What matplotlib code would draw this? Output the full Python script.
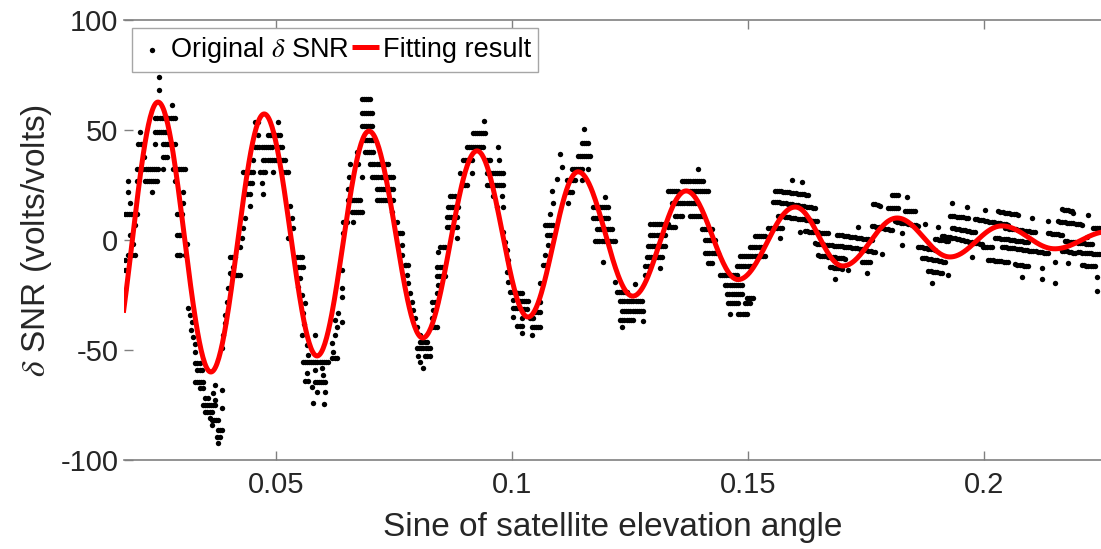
import numpy as np
import matplotlib
matplotlib.use("Agg")
import matplotlib.pyplot as plt

plt.rcParams['font.family'] = ['Liberation Sans', 'DejaVu Sans']
plt.rcParams['mathtext.fontset'] = 'stix'
plt.rcParams['axes.unicode_minus'] = False

# ---------------------------------------------------------------
# Fitted curve: successive extrema (sine of elevation, delta SNR)
# ---------------------------------------------------------------
fit_ext_x = [0.0140, 0.0250, 0.0362, 0.0475, 0.0587, 0.0697, 0.0811, 0.0926,
             0.1034, 0.1140, 0.1256, 0.1369, 0.1479, 0.1600, 0.1701, 0.1816,
             0.1928, 0.2038, 0.2150, 0.2262]
fit_ext_y = [-65.0, 62.7, -60.0, 57.3, -52.7, 49.5, -44.5, 40.5, -35.0, 31.0,
             -25.5, 22.3, -18.0, 15.0, -11.8, 10.0, -7.7, 6.4, -4.0, 3.8]

# ---------------------------------------------------------------
# Observed delta SNR, stored as runs of consecutive samples that sit
# on the same quantised level: (x_start, x_end, y_start[, y_end])
# ---------------------------------------------------------------
runs_peak1 = [
    (0.0186, 0.0186, 26.8), (0.0186, 0.0186, 21.8), (0.0191, 0.0191, 16.8),
    (0.0180, 0.0206, 11.8), (0.0201, 0.0201, 6.8), (0.0191, 0.0191, 2.3),
    (0.0197, 0.0197, -1.8), (0.0186, 0.0201, -6.8), (0.0180, 0.0180, -9.1),
    (0.0180, 0.0180, -13.6), (0.0180, 0.0180, -22.7), (0.0206, 0.0206, 26.8),
    (0.0206, 0.0250, 32.3), (0.0208, 0.0218, 43.6), (0.0212, 0.0212, 49.1),
    (0.0220, 0.0220, 37.7), (0.0222, 0.0248, 26.8), (0.0237, 0.0237, 21.8),
    (0.0244, 0.0244, 43.6), (0.0244, 0.0269, 49.1), (0.0244, 0.0286, 55.5),
    (0.0252, 0.0252, 68.2), (0.0252, 0.0252, 74.1), (0.0280, 0.0280, 61.4),
    (0.0261, 0.0286, 43.6), (0.0261, 0.0269, 37.7), (0.0261, 0.0261, 32.3),
    (0.0282, 0.0307, 32.3), (0.0286, 0.0286, 26.8), (0.0303, 0.0303, 21.8),
    (0.0303, 0.0303, 16.8), (0.0290, 0.0301, 11.8), (0.0290, 0.0297, 2.3),
    (0.0311, 0.0311, -1.8), (0.0290, 0.0297, -6.8), (0.0307, 0.0307, -6.8),
]
runs_trough1 = [
    (0.0314, 0.0314, -30.9), (0.0318, 0.0318, -34.1), (0.0322, 0.0322, -37.3),
    (0.0320, 0.0320, -40.9), (0.0324, 0.0324, -44.1), (0.0328, 0.0328, -47.3),
    (0.0328, 0.0328, -50.9), (0.0328, 0.0339, -55.9), (0.0333, 0.0343, -59.1),
    (0.0328, 0.0345, -64.5), (0.0339, 0.0345, -67.3), (0.0350, 0.0356, -71.8),
    (0.0345, 0.0371, -75.0), (0.0350, 0.0364, -78.2), (0.0360, 0.0360, -80.9),
    (0.0364, 0.0377, -81.8), (0.0364, 0.0364, -84.1), (0.0377, 0.0386, -86.4),
    (0.0375, 0.0381, -89.5), (0.0377, 0.0377, -92.3), (0.0371, 0.0371, -65.9),
    (0.0386, 0.0386, -68.2), (0.0367, 0.0367, -69.5), (0.0371, 0.0371, -72.7),
    (0.0386, 0.0386, -76.4), (0.0386, 0.0386, -49.1), (0.0388, 0.0388, -43.2),
    (0.0392, 0.0392, -37.7), (0.0392, 0.0392, -34.1), (0.0396, 0.0396, -28.2),
    (0.0398, 0.0398, -21.8), (0.0403, 0.0403, -15.0), (0.0407, 0.0424, -15.9),
    (0.0409, 0.0409, -12.3), (0.0403, 0.0403, -7.7),
]
runs_peak2 = [
    (0.0407, 0.0413, -7.7), (0.0424, 0.0424, -3.2), (0.0428, 0.0428, 0.9),
    (0.0430, 0.0430, 5.5), (0.0434, 0.0434, 10.0), (0.0445, 0.0445, 15.5),
    (0.0439, 0.0445, 20.9), (0.0439, 0.0449, 25.9), (0.0470, 0.0470, 25.9),
    (0.0430, 0.0451, 30.9), (0.0466, 0.0477, 30.9), (0.0494, 0.0494, 30.9),
    (0.0515, 0.0526, 30.9), (0.0451, 0.0451, 36.4), (0.0473, 0.0519, 36.4),
    (0.0456, 0.0492, 42.3), (0.0504, 0.0513, 42.3), (0.0462, 0.0462, 47.7),
    (0.0483, 0.0509, 47.7), (0.0456, 0.0462, 53.6), (0.0504, 0.0504, 53.6),
    (0.0473, 0.0473, 20.9), (0.0530, 0.0530, 15.5), (0.0534, 0.0534, 10.0),
    (0.0536, 0.0536, 5.5), (0.0526, 0.0526, 0.9), (0.0545, 0.0555, -7.7),
]
runs_trough2 = [
    (0.0547, 0.0557, -12.3), (0.0551, 0.0551, -17.3), (0.0547, 0.0547, -21.4),
    (0.0555, 0.0555, -25.0), (0.0562, 0.0562, -28.6), (0.0557, 0.0557, -33.0),
    (0.0560, 0.0560, -38.0), (0.0555, 0.0555, -43.2), (0.0566, 0.0566, -47.7),
    (0.0568, 0.0568, -52.3), (0.0557, 0.0610, -55.5), (0.0566, 0.0566, -60.5),
    (0.0583, 0.0583, -59.1), (0.0562, 0.0568, -64.1), (0.0583, 0.0604, -64.5),
    (0.0576, 0.0576, -66.8), (0.0587, 0.0587, -69.1), (0.0604, 0.0604, -69.1),
    (0.0578, 0.0578, -74.1), (0.0602, 0.0602, -74.5), (0.0598, 0.0598, -58.2),
    (0.0600, 0.0600, -61.4), (0.0583, 0.0583, -43.2), (0.0619, 0.0629, -53.6),
    (0.0621, 0.0621, -50.9), (0.0619, 0.0619, -46.8), (0.0625, 0.0625, -43.2),
    (0.0629, 0.0629, -39.5), (0.0625, 0.0625, -36.4), (0.0631, 0.0631, -33.2),
    (0.0640, 0.0640, -37.3), (0.0640, 0.0640, -25.9), (0.0640, 0.0640, -21.8),
    (0.0640, 0.0640, -13.6),
]
runs_peak3 = [
    (0.0642, 0.0651, 8.2), (0.0663, 0.0663, 8.2), (0.0642, 0.0642, 3.2),
    (0.0661, 0.0682, 12.7), (0.0653, 0.0678, 18.2), (0.0653, 0.0653, 23.2),
    (0.0655, 0.0655, 28.6), (0.0682, 0.0682, 28.6), (0.0657, 0.0657, 34.5),
    (0.0674, 0.0674, 34.5), (0.0672, 0.0672, 40.0), (0.0689, 0.0706, 40.0),
    (0.0689, 0.0706, 45.5), (0.0682, 0.0704, 51.8), (0.0682, 0.0704, 57.7),
    (0.0682, 0.0699, 64.1), (0.0699, 0.0737, 34.5), (0.0704, 0.0748, 28.6),
    (0.0714, 0.0748, 23.2), (0.0714, 0.0748, 18.2), (0.0746, 0.0746, 12.7),
    (0.0756, 0.0756, 8.2), (0.0759, 0.0767, 3.2), (0.0767, 0.0767, -2.3),
]
runs_trough3 = [
    (0.0767, 0.0767, -6.8), (0.0773, 0.0780, -11.4), (0.0778, 0.0778, -15.9),
    (0.0780, 0.0780, -19.5), (0.0784, 0.0784, -24.1), (0.0788, 0.0788, -28.2),
    (0.0790, 0.0790, -31.8), (0.0795, 0.0795, -35.5), (0.0799, 0.0799, -39.5),
    (0.0805, 0.0805, -43.2), (0.0805, 0.0820, -46.4), (0.0799, 0.0826, -49.1),
    (0.0801, 0.0801, -52.7), (0.0816, 0.0826, -52.7), (0.0805, 0.0805, -55.5),
    (0.0812, 0.0812, -58.2), (0.0831, 0.0841, -39.5), (0.0831, 0.0831, -35.5),
    (0.0833, 0.0833, -31.8), (0.0831, 0.0841, -28.2), (0.0841, 0.0841, -24.1),
    (0.0843, 0.0843, -20.5), (0.0841, 0.0858, -16.4), (0.0841, 0.0852, -12.3),
    (0.0843, 0.0843, -5.5), (0.0848, 0.0858, -3.2),
]
runs_peak4 = [
    (0.0862, 0.0884, 5.9), (0.0862, 0.0884, 10.5), (0.0865, 0.0886, 15.0),
    (0.0869, 0.0879, 20.0), (0.0884, 0.0884, 0.9), (0.0896, 0.0905, 25.0),
    (0.0890, 0.0890, 30.5), (0.0915, 0.0915, 30.5), (0.0896, 0.0915, 36.4),
    (0.0905, 0.0939, 42.3), (0.0918, 0.0943, 48.6), (0.0941, 0.0941, 54.1),
    (0.0947, 0.0954, 36.4), (0.0970, 0.0970, 42.3), (0.0973, 0.0973, 36.4),
    (0.0947, 0.0981, 30.5), (0.0947, 0.0981, 25.0), (0.0960, 0.0960, 20.0),
    (0.0979, 0.0979, 20.0), (0.0968, 0.0968, 15.0), (0.0981, 0.0981, 15.0),
    (0.0981, 0.0981, 3.6), (0.0985, 0.0985, -0.9),
]
runs_trough4 = [
    (0.0990, 0.0990, -4.5), (0.0992, 0.0992, -9.1), (0.0990, 0.0990, -14.5),
    (0.0992, 0.0992, -19.1), (0.0996, 0.1007, -23.6), (0.1013, 0.1021, -24.1),
    (0.1002, 0.1002, -27.3), (0.1017, 0.1034, -27.7), (0.1002, 0.1011, -30.9),
    (0.1021, 0.1032, -31.4), (0.1002, 0.1002, -35.0), (0.1021, 0.1021, -35.5),
    (0.1011, 0.1021, -39.1), (0.1021, 0.1021, -42.3), (0.1038, 0.1045, -35.5),
    (0.1043, 0.1060, -39.5), (0.1043, 0.1043, -43.2), (0.1049, 0.1060, -32.7),
    (0.1060, 0.1060, -28.2), (0.1060, 0.1060, -19.5), (0.1066, 0.1074, -11.4),
    (0.1070, 0.1070, -6.8),
]
runs_peak5 = [
    (0.1076, 0.1076, -2.3), (0.1074, 0.1087, 2.3), (0.1070, 0.1087, 6.8),
    (0.1081, 0.1081, 11.8), (0.1087, 0.1087, 16.8), (0.1119, 0.1119, 16.8),
    (0.1085, 0.1085, 22.3), (0.1117, 0.1127, 21.8), (0.1096, 0.1096, 27.7),
    (0.1117, 0.1134, 27.3), (0.1149, 0.1149, 27.3), (0.1106, 0.1106, 33.2),
    (0.1127, 0.1149, 32.3), (0.1161, 0.1161, 32.3), (0.1102, 0.1102, 39.1),
    (0.1140, 0.1165, 38.2), (0.1149, 0.1161, 44.1), (0.1153, 0.1153, 50.5),
    (0.1197, 0.1197, 19.5), (0.1172, 0.1204, 15.0), (0.1172, 0.1204, 10.0),
    (0.1180, 0.1212, 5.0), (0.1176, 0.1218, -0.5), (0.1193, 0.1193, -10.0),
    (0.1218, 0.1218, -19.1),
]
runs_trough5 = [
    (0.1223, 0.1244, -23.6), (0.1229, 0.1276, -27.7), (0.1233, 0.1278, -32.3),
    (0.1229, 0.1257, -36.4), (0.1278, 0.1278, -36.8), (0.1233, 0.1233, -39.5),
    (0.1261, 0.1261, -20.0), (0.1282, 0.1288, -11.8), (0.1282, 0.1282, -15.9),
    (0.1314, 0.1314, -12.7), (0.1286, 0.1318, -7.7), (0.1288, 0.1324, -2.7),
    (0.1293, 0.1324, 2.3), (0.1293, 0.1331, 7.3), (0.1331, 0.1346, 5.9),
]
runs_peak6 = [
    (0.1394, 0.1394, 32.3), (0.1360, 0.1405, 26.8), (0.1331, 0.1352, 22.3),
    (0.1377, 0.1416, 22.3), (0.1339, 0.1392, 16.8), (0.1346, 0.1360, 10.9),
    (0.1377, 0.1403, 10.9), (0.1403, 0.1424, 5.0), (0.1409, 0.1430, 0.0),
    (0.1409, 0.1437, -5.9), (0.1416, 0.1424, -10.5),
]
runs_trough6 = [
    (0.1441, 0.1477, -15.9), (0.1452, 0.1488, -20.5), (0.1456, 0.1488, -24.5),
    (0.1498, 0.1511, -26.4), (0.1458, 0.1479, -28.6), (0.1494, 0.1504, -28.6),
    (0.1462, 0.1462, -33.6), (0.1479, 0.1498, -33.6), (0.1477, 0.1508, -11.8),
    (0.1483, 0.1536, -7.3), (0.1504, 0.1532, -3.2), (0.1515, 0.1536, 1.8),
    (0.1543, 0.1572, 5.5), (0.1568, 0.1568, 0.9),
]
runs_peak7 = [
    (0.1557, 0.1627, 22.5, 20.5), (0.1594, 0.1594, 27.3), (0.1615, 0.1615, 26.4),
    (0.1553, 0.1642, 17.5, 14.5), (0.1564, 0.1646, 11.0, 8.5),
    (0.1610, 0.1610, 3.6), (0.1621, 0.1670, 4.0, 3.0),
    (0.1642, 0.1721, -1.5, -3.5), (0.1648, 0.1706, -7.0, -8.5),
    (0.1674, 0.1699, -12.3, -13.0), (0.1685, 0.1685, -17.7), (0.1712, 0.1712, -13.6),
]
runs_trough7 = [
    (0.1689, 0.1763, 2.5, 0.0), (0.1727, 0.1769, -3.5, -5.5),
    (0.1742, 0.1759, -10.0), (0.1752, 0.1752, -15.0), (0.1784, 0.1784, -6.4),
    (0.1733, 0.1733, 5.9), (0.1763, 0.1805, 6.5, 4.5), (0.1765, 0.1780, 16.5, 15.5),
    (0.1805, 0.1818, 20.5), (0.1837, 0.1837, 19.5), (0.1797, 0.1818, 14.5),
    (0.1833, 0.1854, 13.2), (0.1812, 0.1860, 8.5, 6.5), (0.1827, 0.1827, 3.2),
    (0.1827, 0.1827, -2.3),
]
runs_trough8 = [
    (0.1875, 0.1875, 7.3), (0.1903, 0.1903, 5.9), (0.1896, 0.1924, 0.5, -0.5),
    (0.1860, 0.1896, -3.0, -4.5), (0.1869, 0.1918, -8.0, -10.0),
    (0.1882, 0.1911, -14.0, -15.0), (0.1890, 0.1890, -19.5), (0.1924, 0.1924, -15.9),
    (0.1933, 0.1933, 16.8), (0.1964, 0.1964, 15.0), (0.1928, 0.1966, 11.0, 10.0),
    (0.1933, 0.1981, 5.5, 3.5), (0.1911, 0.1996, 2.0, -2.0), (0.1975, 0.1975, -7.7),
    (0.1998, 0.2017, -3.2),
]
runs_peak9 = [
    (0.2002, 0.2002, 13.6), (0.2030, 0.2072, 13.0, 11.5), (0.1981, 0.2051, 9.5, 7.0),
    (0.2045, 0.2108, 5.5, 3.5), (0.2024, 0.2094, 1.0, -1.0), (0.2038, 0.2136, -3.0, -6.0),
    (0.2009, 0.2051, -9.0, -10.0), (0.2066, 0.2094, -11.0, -12.0),
    (0.2081, 0.2081, -16.8), (0.2123, 0.2123, -17.7), (0.2102, 0.2102, 10.0),
    (0.2136, 0.2136, 8.6),
]
runs_tail = [
    (0.2166, 0.2187, 14.0, 13.2), (0.2189, 0.2189, 12.3), (0.2220, 0.2220, 11.4),
    (0.2157, 0.2208, 8.5, 7.0), (0.2136, 0.2166, 3.2, 2.3), (0.2172, 0.2229, -0.5, -2.0),
    (0.2166, 0.2193, -4.8, -6.0), (0.2200, 0.2248, -5.5, -6.5), (0.2151, 0.2151, -10.0),
    (0.2178, 0.2178, -10.5), (0.2208, 0.2235, -11.5, -12.0), (0.2123, 0.2123, -12.7),
    (0.2151, 0.2151, -19.5), (0.2240, 0.2240, -23.2), (0.2240, 0.2240, -16.8),
    (0.2218, 0.2218, 1.4), (0.2231, 0.2248, 5.5),
]

x_ticks = [0.05, 0.1, 0.15, 0.2]
x_tick_labels = ['0.05', '0.1', '0.15', '0.2']
y_ticks = [-100, -50, 0, 50, 100]
x_range = (0.0178, 0.2248)
y_range = (-100, 100)

SAMPLE_STEP = 0.00045  # spacing of consecutive samples along the x axis


def expand_runs(*groups):
    xs, ys = [], []
    for runs in groups:
        for r in runs:
            x0, x1, y0 = r[0], r[1], r[2]
            y1 = r[3] if len(r) > 3 else y0
            n = int(round((x1 - x0) / SAMPLE_STEP)) + 1
            xs.extend(np.linspace(x0, x1, n))
            ys.extend(np.linspace(y0, y1, n))
    return np.array(xs), np.array(ys)


def curve_through_extrema(xe, ye, per_seg=60):
    xs, ys = [], []
    for i in range(len(xe) - 1):
        t = np.linspace(0.0, 1.0, per_seg, endpoint=False)
        xs.append(xe[i] + (xe[i + 1] - xe[i]) * t)
        ys.append(ye[i] + (ye[i + 1] - ye[i]) * (1 - np.cos(np.pi * t)) / 2)
    xs.append([xe[-1]])
    ys.append([ye[-1]])
    return np.concatenate(xs), np.concatenate(ys)


obs_x, obs_y = expand_runs(runs_peak1, runs_trough1, runs_peak2, runs_trough2,
                           runs_peak3, runs_trough3, runs_peak4, runs_trough4,
                           runs_peak5, runs_trough5, runs_peak6, runs_trough6,
                           runs_peak7, runs_trough7, runs_trough8, runs_peak9,
                           runs_tail)
fit_x, fit_y = curve_through_extrema(fit_ext_x, fit_ext_y)

W, H = 1101, 549
fig = plt.figure(figsize=(W / 100, H / 100), dpi=100)
ax = fig.add_axes([124 / W, (H - 460) / H, 977 / W, 440 / H])

ax.scatter(obs_x, obs_y, s=15, c='black', linewidths=0, zorder=2,
           label='Original $\\delta$ SNR')
ax.plot(fit_x, fit_y, color='#ff0000', lw=3.6, zorder=3, label='Fitting result',
        solid_capstyle='butt')

ax.set_xlim(*x_range)
ax.set_ylim(*y_range)
ax.set_xticks(x_ticks)
ax.set_xticklabels(x_tick_labels)
ax.set_yticks(y_ticks)

axis_grey = '#808080'
text_dark = '#262626'
for side in ('left', 'right'):
    ax.spines[side].set_visible(False)
for side in ('top', 'bottom'):
    ax.spines[side].set_color(axis_grey)
    ax.spines[side].set_linewidth(1.2)

ax.tick_params(axis='both', direction='in', length=6.5, width=1.0,
               color=axis_grey, labelcolor=text_dark, labelsize=21, pad=4)
ax.tick_params(axis='x', top=True, bottom=True, pad=8)
ax.tick_params(axis='y', left=True, right=False)

ax.set_xlabel('Sine of satellite elevation angle', fontsize=24, color=text_dark)
ax.set_ylabel('$\\delta$ SNR (volts/volts)', fontsize=24, color=text_dark)
ax.xaxis.set_label_coords(0.5, -0.118)
ax.xaxis.label.set_va('top')
ax.yaxis.set_label_coords(-0.0716, 0.5)

leg = ax.legend(loc='upper left', bbox_to_anchor=(8 / 977, 432 / 440), ncol=2,
                fontsize=19.5, frameon=True, fancybox=False, framealpha=1.0,
                edgecolor='#a6a6a6', handlelength=1.0, handletextpad=0.15,
                columnspacing=0.1, borderpad=0.25, borderaxespad=0.0,
                scatterpoints=1)
leg.get_frame().set_linewidth(1.0)
for t in leg.get_texts():
    t.set_color('black')

fig.savefig('out.png', dpi=100)
